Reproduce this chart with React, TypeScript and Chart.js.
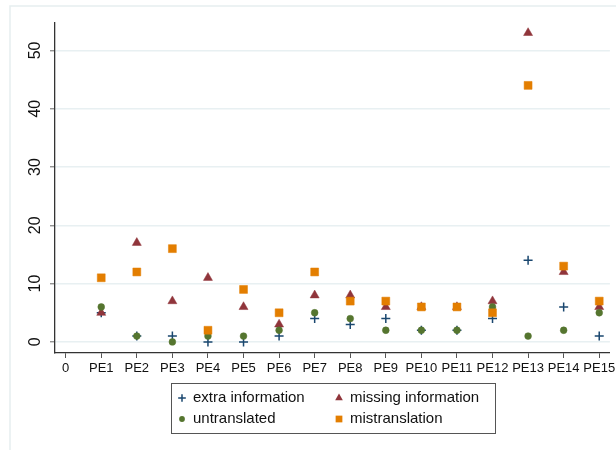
import React, { useEffect, useRef } from "react";
import { Chart, registerables } from "chart.js";

Chart.register(...registerables);

const categories = ["PE1", "PE2", "PE3", "PE4", "PE5", "PE6", "PE7", "PE8", "PE9", "PE10", "PE11", "PE12", "PE13", "PE14", "PE15"];
const xTickLabels = ["0", ...categories];
const yTicks = [0, 10, 20, 30, 40, 50];

const extraInformation = [5, 1, 1, 0, 0, 1, 4, 3, 4, 2, 2, 4, 14, 6, 1];
const missingInformation = [5, 17, 7, 11, 6, 3, 8, 8, 6, 6, 6, 7, 53, 12, 6];
const untranslated = [6, 1, 0, 1, 1, 2, 5, 4, 2, 2, 2, 6, 1, 2, 5];
const mistranslation = [11, 12, 16, 2, 9, 5, 12, 7, 7, 6, 6, 5, 44, 13, 7];

const FONT = "'Liberation Sans', Arial, sans-serif";

const seriesDefs = [
  { label: "extra information", values: extraInformation, color: "#1a476f", style: "cross", radius: 4.5, order: 4 },
  { label: "missing information", values: missingInformation, color: "#90353b", style: "triangle", radius: 5.2, order: 3 },
  { label: "untranslated", values: untranslated, color: "#55752f", style: "circle", radius: 3.4, order: 2 },
  { label: "mistranslation", values: mistranslation, color: "#e37e00", style: "rect", radius: 5.6, order: 1 },
];

function drawMarker(ctx: any, style: string, r: number, x: number, y: number) {
  ctx.beginPath();
  if (style === "cross") {
    ctx.moveTo(x - r, y);
    ctx.lineTo(x + r, y);
    ctx.moveTo(x, y - r);
    ctx.lineTo(x, y + r);
    ctx.stroke();
  } else if (style === "triangle") {
    ctx.moveTo(x, y - r);
    ctx.lineTo(x + r * 0.866, y + r * 0.5);
    ctx.lineTo(x - r * 0.866, y + r * 0.5);
    ctx.closePath();
    ctx.fill();
  } else if (style === "circle") {
    ctx.arc(x, y, r, 0, Math.PI * 2);
    ctx.fill();
  } else {
    const h = r * Math.SQRT1_2;
    ctx.fillRect(x - h, y - h, 2 * h, 2 * h);
  }
}

export default function App() {
  const ref = useRef<HTMLCanvasElement | null>(null);

  useEffect(() => {
    if (!ref.current) return;

    const framePlugin = {
      id: "frame",
      beforeDraw(chart: any) {
        const ctx = chart.ctx;
        ctx.save();
        ctx.fillStyle = "#ffffff";
        ctx.fillRect(0, 0, chart.width, chart.height);
        ctx.strokeStyle = "#e6eef0";
        ctx.lineWidth = 1.5;
        ctx.beginPath();
        ctx.moveTo(10, 450);
        ctx.lineTo(10, 6);
        ctx.lineTo(616, 6);
        ctx.stroke();
        ctx.restore();
      },
    };

    const yLabelPlugin = {
      id: "yLabels",
      afterDraw(chart: any) {
        const ctx = chart.ctx;
        const y = chart.scales.y;
        ctx.save();
        ctx.fillStyle = "#111111";
        ctx.font = `16px ${FONT}`;
        ctx.textAlign = "center";
        ctx.textBaseline = "middle";
        yTicks.forEach((v) => {
          const py = y.getPixelForValue(v);
          ctx.save();
          ctx.translate(36, py);
          ctx.rotate(-Math.PI / 2);
          ctx.fillText(String(v), 0, 0);
          ctx.restore();
        });
        ctx.restore();
      },
    };

    const legendPlugin = {
      id: "boxLegend",
      afterDraw(chart: any) {
        const ctx = chart.ctx;
        ctx.save();
        ctx.strokeStyle = "#555555";
        ctx.lineWidth = 1;
        ctx.strokeRect(171.5, 383.5, 324, 50);
        const cols = [182, 339];
        const rows = [398, 419];
        ctx.font = `15px ${FONT}`;
        ctx.textBaseline = "middle";
        ctx.textAlign = "left";
        seriesDefs.forEach((s, i) => {
          const cx = cols[i % 2];
          const cy = rows[Math.floor(i / 2)];
          ctx.save();
          ctx.fillStyle = s.color;
          ctx.strokeStyle = s.color;
          ctx.lineWidth = s.style === "cross" ? 1.5 : 0.5;
          drawMarker(ctx, s.style, s.radius * 0.85, cx, cy);
          ctx.restore();
          ctx.fillStyle = "#111111";
          ctx.fillText(s.label, cx + 11, cy);
        });
        ctx.restore();
      },
    };

    const chart = new Chart(ref.current, {
      type: "scatter",
      data: {
        datasets: seriesDefs.map((s) => ({
          label: s.label,
          data: s.values.map((v, i) => ({ x: i + 1, y: v })),
          pointStyle: s.style as any,
          pointRadius: s.radius,
          pointHoverRadius: s.radius,
          backgroundColor: s.color,
          borderColor: s.color,
          pointBorderWidth: s.style === "cross" ? 1.5 : 0.5,
          order: s.order,
        })),
      },
      options: {
        animation: false,
        responsive: false,
        maintainAspectRatio: false,
        layout: { padding: { top: 23, right: 4, bottom: 0, left: 0 } },
        plugins: {
          legend: { display: false },
          tooltip: { enabled: false },
        },
        scales: {
          x: {
            type: "linear",
            min: -0.3,
            max: 15.3,
            afterBuildTicks: (scale: any) => {
              scale.ticks = xTickLabels.map((_, i) => ({ value: i }));
            },
            afterFit: (scale: any) => {
              scale.height = 97;
              scale.paddingLeft = 0;
              scale.paddingRight = 0;
            },
            ticks: {
              autoSkip: false,
              maxRotation: 0,
              minRotation: 0,
              padding: 3,
              color: "#111111",
              font: { family: FONT, size: 13 },
              callback: (v: any) => xTickLabels[Math.round(Number(v))] ?? "",
            },
            grid: {
              drawOnChartArea: false,
              drawTicks: true,
              tickLength: 5,
              tickColor: "#555555",
              tickWidth: 1,
            },
            border: { display: true, color: "#333333", width: 1.3 },
          },
          y: {
            type: "linear",
            min: -1.9,
            max: 54.7,
            afterBuildTicks: (scale: any) => {
              scale.ticks = yTicks.map((v) => ({ value: v }));
            },
            afterFit: (scale: any) => {
              scale.width = 55;
              scale.paddingTop = 0;
              scale.paddingBottom = 0;
            },
            ticks: { display: false },
            grid: {
              color: "#e8f0f2",
              lineWidth: 1.6,
              drawTicks: true,
              tickLength: 5,
              tickColor: "#666666",
              tickWidth: 1,
            },
            border: { display: true, color: "#333333", width: 1.3 },
          },
        },
      },
      plugins: [framePlugin, yLabelPlugin, legendPlugin],
    });

    return () => chart.destroy();
  }, []);

  return (
    <div style={{ position: "absolute", left: 0, top: 0, width: 616, height: 450, overflow: "hidden", background: "#fff" }}>
      <canvas ref={ref} width={616} height={450} style={{ display: "block" }} />
    </div>
  );
}
